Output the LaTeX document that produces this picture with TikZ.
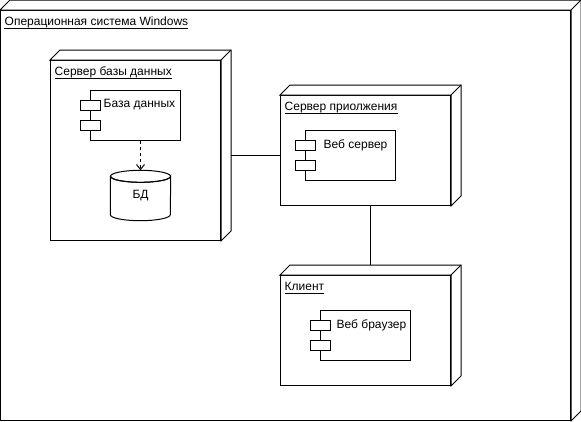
\documentclass[tikz,border=0pt]{standalone}
\usepackage{fontspec}
\setmainfont{Liberation Sans}
\usetikzlibrary{arrows.meta,calc}
\tikzset{
  edge/.style={draw=black, line width=1pt},
  front/.style={edge, fill=white, inner sep=0pt, minimum width=#1},
  comp/.style={edge, fill=white, inner sep=0pt, minimum width=90pt, minimum height=50pt},
  port/.style={edge, fill=white, inner sep=0pt, minimum width=20pt, minimum height=10pt},
  lbl/.style={inner sep=0pt, anchor=base west, font=\fontsize{12}{14}\selectfont},
  conn/.style={edge},
  dep/.style={edge, dash pattern=on 3pt off 3pt, -{Straight Barb[length=5pt,width=8pt]}},
}
\newcommand\depthfaces[1]{%
  \draw[edge, fill=white] (#1.north west) -- ++(10,-10) -| ([shift={(10,-10)}]#1.south east) -- (#1.south east) -- (#1.north east) -- cycle;
  \draw[edge] (#1.north east) -- ++(10,-10);}
\newcommand\ulab[1]{\draw[edge] ([yshift=-2.5pt]#1.base west) -- ([yshift=-2.5pt]#1.base east);}
\begin{document}
\begin{tikzpicture}[x=1pt,y=-1pt]
\useasboundingbox (-0.5,-0.5) rectangle (580.5,420.5);
% outer node
\node[front=570pt, minimum height=410pt] (os) at (285,215) {};
\depthfaces{os}
\node[lbl] (oslbl) at (4,25) {Операционная система Windows};
\ulab{oslbl}
% database server
\node[front=170pt, minimum height=180pt] (dbs) at (135,150) {};
\depthfaces{dbs}
\node[lbl] (dbslbl) at (54,75) {Сервер базы данных};
\ulab{dbslbl}
\node[comp] (dbc) at (135,115) {};
\node[port] (dbp1) at (90,105) {};
\node[port] (dbp2) at (90,125) {};
\node[lbl] (dbctxt) at (103,107) {База данных};
% cylinder
\node[inner sep=0pt, minimum width=60pt, minimum height=50pt, font=\fontsize{12}{14}\selectfont] (bd) at (140,195) {};
\draw[edge, fill=white] ([yshift=-6pt]bd.north west) -- ([yshift=6pt]bd.south west)
   arc[start angle=180, end angle=0, x radius=30, y radius=6]
   -- ([yshift=-6pt]bd.north east)
   arc[start angle=0, end angle=180, x radius=30, y radius=6];
\draw[edge] ([yshift=-6pt]bd.north) ellipse[x radius=30, y radius=6];
\node[inner sep=0pt, font=\fontsize{12}{14}\selectfont] (bdtxt) at (bd.center) {БД};
\draw[dep] (dbc.south -| bd.north) -- (bd.north);
% application server
\node[front=170pt, minimum height=110pt] (app) at (365,150) {};
\depthfaces{app}
\node[lbl] (applbl) at (284,110) {Сервер приолжения};
\ulab{applbl}
\node[comp] (web) at (350,155) {};
\node[port] (webp1) at (305,145) {};
\node[port] (webp2) at (305,165) {};
\node[lbl] (webtxt) at (323,148) {Веб сервер};
% client
\node[front=170pt, minimum height=110pt] (cli) at (365,330) {};
\depthfaces{cli}
\node[lbl] (clilbl) at (284,290) {Клиент};
\ulab{clilbl}
\node[comp] (br) at (365,335) {};
\node[port] (brp1) at (320,325) {};
\node[port] (brp2) at (320,345) {};
\node[lbl] (brtxt) at (336,328) {Веб браузер};
% connectors
\coordinate (c1) at ([shift={(10,5)}]dbs.east);
\draw[conn] (c1) -- (c1 -| app.west);
\coordinate (c2) at ([xshift=5pt]app.south);
\coordinate (c3) at ([yshift=10pt]cli.north);
\draw[conn] (c2) -- (c2 |- c3);
\end{tikzpicture}
\end{document}
